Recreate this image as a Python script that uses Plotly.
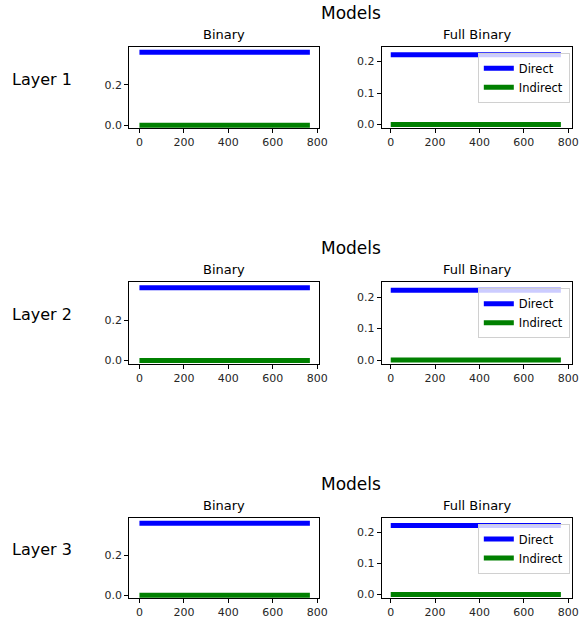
import plotly.graph_objects as go

# ---- data ----
layers = ["Layer 1", "Layer 2", "Layer 3"]
models = ["Binary", "Full Binary"]
n_units = 768
units = list(range(n_units))
direct_value = {"Binary": 0.36, "Full Binary": 0.222}
indirect_value = {"Binary": 0.0, "Full Binary": 0.0}
series_names = ["Direct", "Indirect"]
series_colors = {"Direct": "#0000ff", "Indirect": "#008000"}
x_ticks = [0, 200, 400, 600, 800]
y_ticks = {"Binary": [0.0, 0.2], "Full Binary": [0.0, 0.1, 0.2]}
y_ranges = {"Binary": [-0.015, 0.388], "Full Binary": [-0.0115, 0.2475]}
x_ranges = {"Binary": [-46, 806], "Full Binary": [-41, 817]}

# layout expressed in target-picture pixels; the capture compresses the
# page horizontally a little, so the figure is made slightly wider
RW, RH = 587, 623
SX = 0.9832
W, H = round(RW / SX), RH
col_px = [(129, 318), (381, 571)]
row_px = [(47, 129), (284, 366), (521, 602)]


def px_x(p):
    return p / RW


def px_y(p):
    return 1 - p / RH


FONT = "DejaVu Sans"
fig = go.Figure()
annotations = []
legend_defs = {}

for r, layer in enumerate(layers):
    top, bot = row_px[r]
    yd = [px_y(bot), px_y(top)]
    for c, model in enumerate(models):
        left, right = col_px[c]
        xd = [px_x(left), px_x(right)]
        idx = r * 2 + c + 1
        xa = "xaxis" if idx == 1 else f"xaxis{idx}"
        ya = "yaxis" if idx == 1 else f"yaxis{idx}"
        xref = "x" if idx == 1 else f"x{idx}"
        yref = "y" if idx == 1 else f"y{idx}"
        common = dict(showline=True, linecolor="#000000", linewidth=1, mirror=True,
                      ticks="outside", ticklen=4, tickwidth=1, tickcolor="#000000",
                      showgrid=False, zeroline=False,
                      tickfont=dict(family=FONT, size=11, color="#262626"))
        fig.layout[xa] = dict(domain=xd, anchor=yref, range=x_ranges[model],
                              tickvals=x_ticks, ticktext=[str(t) for t in x_ticks], **common)
        fig.layout[ya] = dict(domain=yd, anchor=xref, range=y_ranges[model],
                              tickvals=y_ticks[model],
                              ticktext=[f"{t:.1f}" for t in y_ticks[model]], **common)
        legend_name = None
        if model == "Full Binary":
            legend_name = "legend" if r == 0 else f"legend{r + 1}"
            legend_defs[legend_name] = dict(
                x=px_x(477), xanchor="left", y=px_y(top + 6), yanchor="top",
                bgcolor="rgba(255,255,255,0.8)", bordercolor="#d0d0d0", borderwidth=1,
                font=dict(family=FONT, size=11.5, color="#000000"),
                itemwidth=30, tracegroupgap=0)
        for s in series_names:
            val = direct_value[model] if s == "Direct" else indirect_value[model]
            tr = dict(x=units, y=[val] * n_units, mode="lines", name=s,
                      line=dict(color=series_colors[s], width=5),
                      xaxis=xref, yaxis=yref,
                      showlegend=legend_name is not None, hoverinfo="skip")
            if legend_name is not None:
                tr["legend"] = legend_name
            fig.add_trace(go.Scatter(**tr))
        annotations.append(dict(text=model, x=px_x((left + right) / 2), y=px_y(top - 3),
                                xref="paper", yref="paper", xanchor="center", yanchor="bottom",
                                showarrow=False, font=dict(family=FONT, size=13, color="#000000")))
    annotations.append(dict(text="Models", x=px_x(350), y=px_y(top - 34),
                            xref="paper", yref="paper", xanchor="center", yanchor="middle",
                            showarrow=False, font=dict(family=FONT, size=17, color="#000000")))
    annotations.append(dict(text=layer, x=px_x(42), y=px_y((top + bot) / 2 - 8),
                            xref="paper", yref="paper", xanchor="center", yanchor="middle",
                            showarrow=False, font=dict(family=FONT, size=16, color="#000000")))

fig.update_layout(width=W, height=H, margin=dict(l=0, r=0, t=0, b=0),
                  paper_bgcolor="white", plot_bgcolor="white",
                  annotations=annotations, **legend_defs)
fig.write_html("out.html", config={"displayModeBar": False},
               post_script="document.body.style.margin='0px';")
